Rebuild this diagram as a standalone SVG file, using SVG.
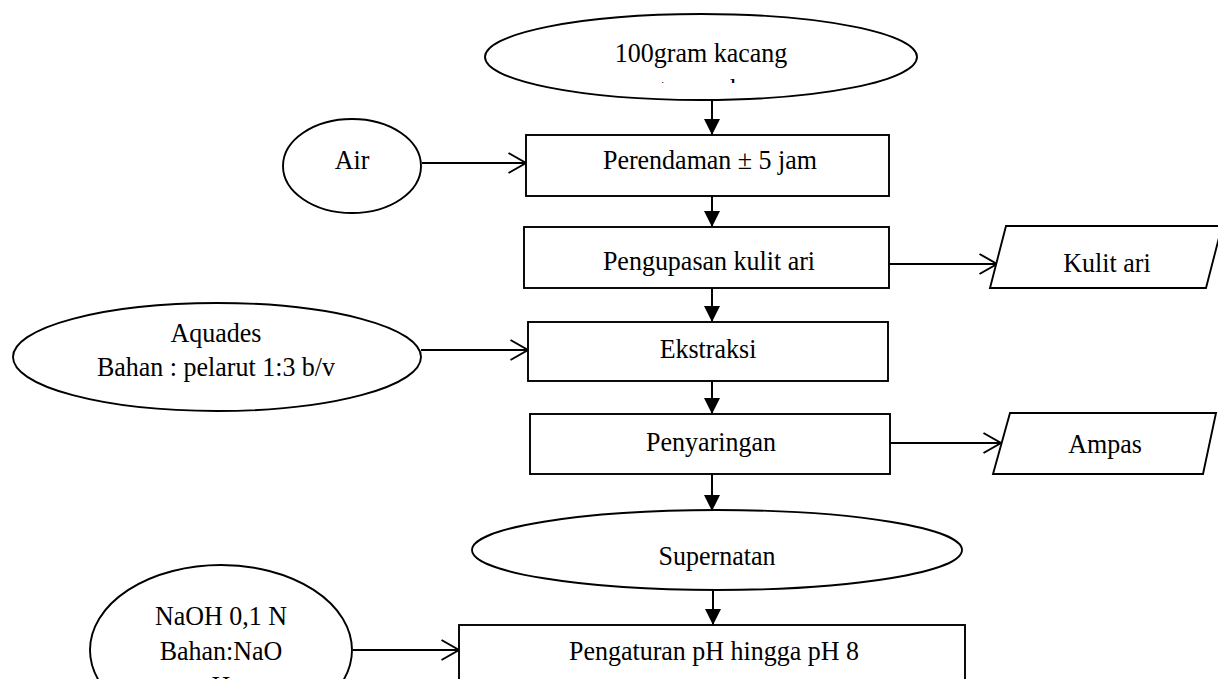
<svg xmlns="http://www.w3.org/2000/svg" width="1218" height="679" viewBox="0 0 1218 679">
<style>
.sh{fill:#fff;stroke:#000;stroke-width:1.9}
.t{font-family:"Liberation Serif","Times New Roman",serif;font-size:26px;fill:#000;text-anchor:middle}
.ln{stroke:#000;stroke-width:2;fill:none}
</style>
<defs>
<marker id="fa" viewBox="0 0 16 16" refX="16" refY="8" markerWidth="16" markerHeight="16" markerUnits="userSpaceOnUse" orient="auto">
<path d="M0,0 L16,8 L0,16 Z" fill="#000"/>
</marker>
<marker id="oa" viewBox="0 0 20 22" refX="18.5" refY="11" markerWidth="20" markerHeight="22" markerUnits="userSpaceOnUse" orient="auto">
<path d="M1,1 L18.5,11 L1,21" fill="none" stroke="#000" stroke-width="2"/>
</marker>
<clipPath id="clip1"><rect x="480" y="0" width="440" height="83"/></clipPath>
</defs>
<rect width="1218" height="679" fill="#fff"/>
<g id="connectors">
<line class="ln" x1="712" y1="100" x2="712" y2="135" marker-end="url(#fa)"/>
<line class="ln" x1="712" y1="196" x2="712" y2="227" marker-end="url(#fa)"/>
<line class="ln" x1="712" y1="288" x2="712" y2="322" marker-end="url(#fa)"/>
<line class="ln" x1="712" y1="381" x2="712" y2="414" marker-end="url(#fa)"/>
<line class="ln" x1="712" y1="474" x2="712" y2="511" marker-end="url(#fa)"/>
<line class="ln" x1="713" y1="590" x2="713" y2="625" marker-end="url(#fa)"/>
<line class="ln" x1="422" y1="163" x2="526" y2="163" marker-end="url(#oa)"/>
<line class="ln" x1="889" y1="264" x2="997" y2="264" marker-end="url(#oa)"/>
<line class="ln" x1="421" y1="350" x2="528" y2="350" marker-end="url(#oa)"/>
<line class="ln" x1="890" y1="443" x2="1001" y2="443" marker-end="url(#oa)"/>
<line class="ln" x1="353" y1="650" x2="459" y2="650" marker-end="url(#oa)"/>
</g>
<g id="n-kacang">
<ellipse class="sh" cx="701" cy="57" rx="216" ry="43"/>
<text class="t" transform="translate(701,62) scale(1,1.08)">100gram kacang</text>
<g clip-path="url(#clip1)"><text class="t" transform="translate(701,97.5) scale(1,1.08)">tunggak</text></g>
</g>
<g id="n-air">
<ellipse class="sh" cx="352" cy="166" rx="69" ry="47"/>
<text class="t" transform="translate(352,169) scale(1,1.08)">Air</text>
</g>
<g id="n-perendaman">
<rect class="sh" x="526" y="135" width="363" height="61"/>
<text class="t" transform="translate(710,169) scale(1,1.08)">Perendaman ± 5 jam</text>
</g>
<g id="n-pengupasan">
<rect class="sh" x="524" y="227" width="365" height="61"/>
<text class="t" transform="translate(709,270) scale(1,1.08)">Pengupasan kulit ari</text>
</g>
<g id="n-kulitari">
<polygon class="sh" points="1006,226 1222,226 1206,288 990,288"/>
<text class="t" transform="translate(1107,272) scale(1,1.08)">Kulit ari</text>
</g>
<g id="n-aquades">
<ellipse class="sh" cx="217" cy="357" rx="204" ry="54"/>
<text class="t" transform="translate(216,342) scale(1,1.08)">Aquades</text>
<text class="t" transform="translate(216,376) scale(1,1.08)">Bahan : pelarut 1:3 b/v</text>
</g>
<g id="n-ekstraksi">
<rect class="sh" x="528" y="322" width="360" height="59"/>
<text class="t" transform="translate(708,358) scale(1,1.08)">Ekstraksi</text>
</g>
<g id="n-penyaringan">
<rect class="sh" x="530" y="414" width="360" height="60"/>
<text class="t" transform="translate(711,451) scale(1,1.08)">Penyaringan</text>
</g>
<g id="n-ampas">
<polygon class="sh" points="1010,413 1216,413 1203,474 993,474"/>
<text class="t" transform="translate(1105,453) scale(1,1.08)">Ampas</text>
</g>
<g id="n-supernatan">
<ellipse class="sh" cx="717" cy="550" rx="245" ry="40"/>
<text class="t" transform="translate(717,565) scale(1,1.08)">Supernatan</text>
</g>
<g id="n-naoh">
<ellipse class="sh" cx="221" cy="650" rx="131" ry="85"/>
<text class="t" transform="translate(221,625) scale(1,1.08)">NaOH 0,1 N</text>
<text class="t" transform="translate(221,660) scale(1,1.08)">Bahan:NaO</text>
<text class="t" transform="translate(221,695) scale(1,1.08)">H</text>
</g>
<g id="n-ph">
<rect class="sh" x="459" y="625" width="506" height="70"/>
<text class="t" transform="translate(714,660) scale(1,1.08)">Pengaturan pH hingga pH 8</text>
</g>
</svg>
